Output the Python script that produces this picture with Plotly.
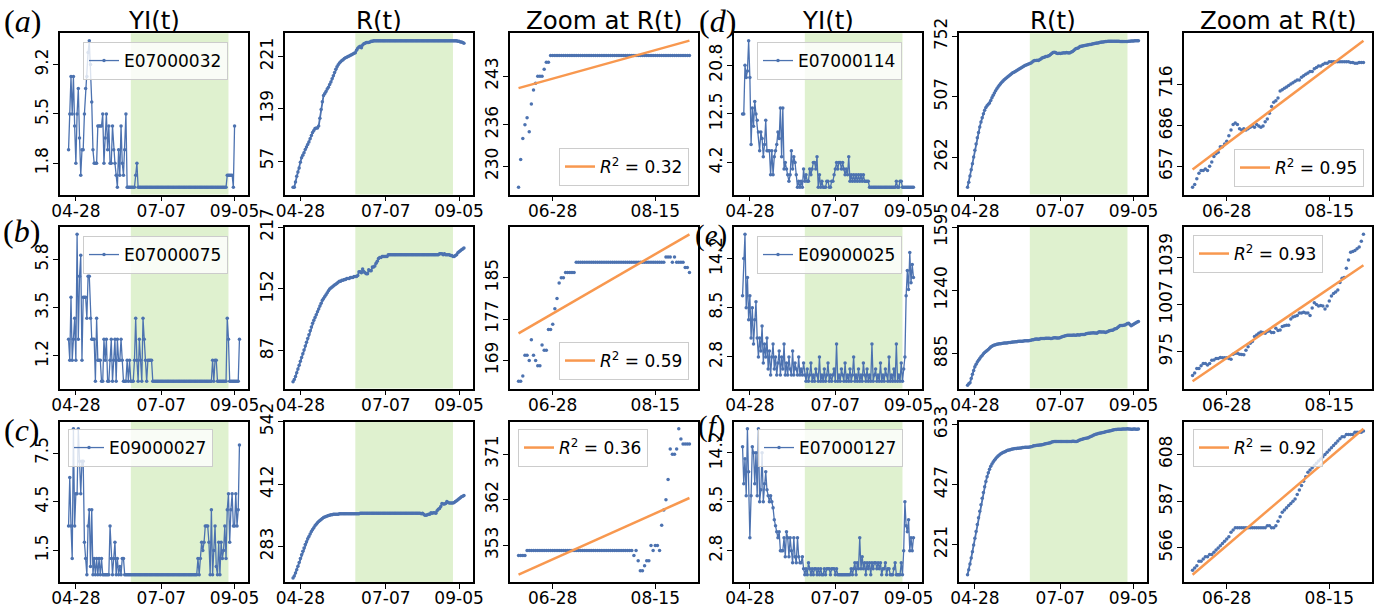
import datetime as dt
import numpy as np
import plotly.graph_objects as go

W, H = 1394, 608
BLUE = "#4c72b0"
ORANGE = "#f8984f"
GREEN = "#dff1cf"

start = dt.date(2020, 4, 22)
dates = [(start + dt.timedelta(days=i)).isoformat() for i in range(141)]
Z0, Z1 = 51, 132          # zoom window 06-12 .. 08-31 (also the shaded span)

codes = ["E07000032", "E07000075", "E09000027", "E07000114", "E09000025", "E07000127"]
r2_text = ["0.32", "0.59", "0.36", "0.95", "0.93", "0.92"]
yi_ticks = [[1.8, 5.5, 9.2], [1.2, 3.5, 5.8], [1.5, 4.5, 7.5],
            [4.2, 12.5, 20.8], [2.8, 8.5, 14.2], [2.8, 8.5, 14.2]]
r_ticks = [[57, 139, 221], [87, 152, 217], [283, 412, 542],
           [262, 507, 752], [885, 1240, 1595], [221, 427, 633]]
zoom_ticks = [[230, 236, 243], [169, 177, 185], [353, 362, 371],
              [657, 686, 716], [975, 1007, 1039], [566, 587, 608]]
x_ticks = ["2020-04-28", "2020-07-07", "2020-09-05"]
x_tick_text = ["04-28", "07-07", "09-05"]
zx_ticks = ["2020-06-28", "2020-08-15"]
zx_tick_text = ["06-28", "08-15"]

# ---------------- YI(t) series ----------------
yi_a = [2.8, 5.5, 8.3, 5.5, 8.3, 4.6, 1.8, 5.5, 7.4, 3.7, 0.9, 2.8, 2.8, 5.5, 7.4, 8.3, 10.1, 11.0,
        9.2, 6.4, 2.8, 1.8, 1.8, 1.8, 4.6, 4.6, 4.6, 4.6, 5.5, 1.8, 3.7, 5.5, 2.8, 4.6, 1.8, 1.8,
        4.6, 2.8, 1.8, 0.9, 0.0, 2.8, 0.9, 4.6, 1.8, 0.9, 2.8, 5.5,
        0, 0, 0, 0, 0, 0, 0, 0.9, 1.8, 0, 0, 0, 0, 0, 0, 0, 0, 0, 0, 0, 0, 0, 0, 0,
        0, 0, 0, 0, 0, 0, 0, 0, 0, 0, 0, 0, 0, 0, 0, 0, 0, 0, 0, 0, 0, 0, 0, 0, 0, 0,
        0, 0, 0, 0, 0, 0, 0, 0, 0, 0, 0, 0, 0, 0, 0, 0, 0, 0, 0, 0, 0, 0, 0, 0, 0, 0,
        0, 0, 0, 0, 0, 0, 0.9, 0.9, 0.9, 0.9, 0.9, 0, 4.6]
yi_b = [2, 1, 4, 1, 2, 3, 1, 7, 2, 5, 6, 1, 4, 4, 4, 3, 5, 5, 3, 2, 2, 2, 0, 3, 1, 1, 1, 0, 0, 2,
        1, 2, 0, 0, 1, 2, 0, 1, 2, 0, 2, 1, 1, 2, 1, 0, 0, 0,
        1, 0, 1, 0, 0, 0, 1, 3, 1, 0, 2, 1, 0, 3, 2, 1, 0, 1, 1, 1, 1,
        0, 0, 0, 0, 0, 0, 0, 0, 0, 0, 0, 0, 0, 0, 0, 0, 0, 0, 0, 0, 0, 0, 0, 0, 0,
        0, 0, 0, 0, 0, 0, 0, 0, 0, 0, 0, 0, 0, 0, 0, 0, 0, 0, 0, 0, 0, 0, 0, 0,
        1, 0, 1, 1, 0, 0, 0, 0, 0, 0, 0, 0, 3, 2, 0, 0, 0, 0, 0, 0, 0, 0, 2]
yi_c = [3.0, 6.0, 3.0, 1.0, 9.0, 3.0, 5.0, 5.0, 9.0, 7.0, 5.0, 7.0, 7.0, 2.0, 1.0, 0.0, 3.0, 4.0,
        0.5, 4.0, 0.0, 1.0, 0.0, 1.0, 0.0, 1.0, 0.0, 1.0, 0.0, 0.0, 0.0, 0.0, 0.0, 0.0, 3.0, 1.0,
        0.0, 1.0, 2.0, 0.0, 1.0, 0.0, 0.5, 0.0, 1.0, 1.0, 0.0, 0.0,
        0, 0, 0, 0, 0, 0, 0, 0, 0, 0, 0, 0, 0, 0, 0, 0, 0, 0, 0, 0, 0, 0, 0, 0, 0, 0, 0, 0, 0,
        0, 0, 0, 0, 0, 0, 0, 0, 0, 0, 0, 0, 0, 0, 0, 0, 0, 0, 0, 0, 0, 0, 0, 0, 0, 0, 0, 0, 0,
        1.0, 0.0, 1.0, 2.0, 1.5, 2.0, 3.0, 3.0, 3.0, 2.0, 0.0, 4.0, 0.0, 1.5, 3.0, 0.5, 0.0, 2.0,
        0.0, 2.0, 1.0, 1.5, 3.0, 1.0, 4.0, 5.0, 2.0, 4.0, 5.0, 3.0, 3.0, 5.0, 3.0, 4.0, 8.0]
yi_d = [12.5, 12.5, 20.8, 18.7, 19.8, 25.0, 18.7, 7.3, 13.5, 10.4, 14.6, 12.5, 11.4, 9.4, 6.2, 9.4,
        8.3, 5.2, 7.3, 11.4, 6.2, 6.2, 6.2, 2.1, 6.2, 2.1, 5.2, 6.2, 7.3, 9.4, 8.3, 13.5, 5.2, 13.5,
        3.1, 4.2, 3.1, 2.1, 1.0, 2.1, 6.2, 3.1, 5.2, 4.2, 2.1, 0.0, 1.0, 0.0, 1.0, 0.0, 3.1,
        1.0, 2.1, 1.0, 1.0, 3.1, 2.1, 3.1, 4.2, 4.2, 3.1, 5.2, 0.0, 2.1, 0.0, 1.0, 0.0, 0.0, 0.0,
        1.0, 1.0, 0.0, 0.0, 1.0, 1.0, 2.1, 3.1, 4.2, 3.1, 4.2, 4.2, 3.1, 4.2, 3.1, 2.1, 3.1, 2.1,
        5.2, 1.0, 2.1, 1.0, 2.1, 1.0, 2.1, 1.0, 2.1, 1.0, 2.1, 1.0, 2.1, 1.0, 1.0, 1.0, 1.0, 0.0,
        0, 0, 0, 0, 0, 0, 0, 0, 0, 0, 0, 0, 0, 0, 0, 0, 0, 0, 0, 0, 0,
        1.0, 0.0, 0.0, 1.0, 1.0, 0, 0, 0, 0, 0, 0, 0, 0, 0, 0]
yi_e = [9.9, 14.2, 17.0, 8.5, 12.0, 7.1, 9.9, 5.0, 8.5, 4.3, 7.1, 9.2, 5.0, 2.8, 5.0, 3.5, 6.4,
        2.1, 4.3, 2.8, 5.0, 1.4, 3.5, 0.7, 2.8, 4.3, 1.4, 2.8, 0.7, 2.1, 3.5, 0.7, 2.8, 1.4, 4.3,
        0.7, 2.1, 0.7, 2.8, 1.4, 0.7, 3.5, 0.7, 2.1, 1.4, 0.7, 2.8, 0.7, 1.4, 0.7, 2.1,
        0.7, 0.0, 1.4, 0.0, 0.7, 2.1, 0.0, 0.7, 0.0, 1.4, 0.7, 0.0, 2.8, 0.0, 0.7, 0.0, 1.4, 0.0,
        0.7, 2.1, 0.0, 0.7, 0.0, 0.7, 1.4, 0.0, 4.3, 0.0, 0.7, 0.0, 1.4, 0.7, 0.0, 2.1, 0.0, 0.7,
        0.0, 1.4, 0.0, 0.7, 2.8, 0.0, 0.7, 0.0, 1.4, 0.0, 0.7, 0.0, 2.1, 0.7, 0.0, 1.4, 0.0, 0.7,
        0.0, 4.3, 0.0, 0.7, 1.4, 0.0, 0.7, 0.0, 2.1, 0.0, 0.7, 0.0, 1.4, 0.7, 0.0, 2.8, 0.0, 0.7,
        0.0, 1.4, 0.0, 4.3, 0.0, 0.7, 0.0, 2.1, 0.0,
        1.4, 2.8, 9.9, 12.8, 10.6, 14.9, 11.4, 13.5, 12.0]
yi_f = [14.9, 10.6, 13.5, 9.2, 17.0, 12.0, 4.3, 9.2, 14.9, 14.2, 10.6, 14.2, 9.2, 17.0, 8.5, 9.9,
        14.2, 8.5, 10.6, 12.0, 9.9, 9.2, 8.5, 9.2, 8.5, 7.8, 6.4, 5.7, 5.0, 4.3, 5.0, 2.8, 2.8, 2.8,
        4.3, 2.1, 5.0, 4.3, 2.1, 4.3, 2.8, 1.4, 4.3, 2.1, 1.4, 4.3, 2.1, 1.4, 1.4, 2.1, 0.7,
        0.0, 0.7, 0.0, 1.4, 0.7, 0.0, 0.7, 0.0, 0.7, 0.7, 0.0, 0.7, 0.0, 0.7, 0.0, 0.0, 0.7, 0.0,
        0.7, 0.7, 0.7, 0.0, 0.7, 0.7, 0.7, 0.0, 0.7, 0.0, 0, 0, 0, 0, 0, 0, 0, 0, 0, 0, 0.7, 0.0,
        0.7, 1.4, 0.0, 1.4, 0.7, 4.3, 0.7, 2.1, 0.7, 1.4, 0.0, 1.4, 0.7, 1.4, 0.0, 1.4, 0.7, 1.4,
        1.4, 0.7, 1.4, 0.7, 1.4, 0.0, 0.7, 0.7, 1.4, 0.0, 0.7, 0.7, 0.0, 0.0, 0.0, 0.7, 1.4, 0.0,
        0.0, 0.0, 0.0, 1.4, 0.0, 2.8, 8.5, 5.7, 5.0, 6.4, 2.8, 4.3, 2.8, 4.3]

# ---------------- R(t) series ----------------
r_a = [16, 16, 24, 33, 40, 46, 55, 62, 66, 70, 75, 79, 83, 87, 92, 97, 102, 105, 108, 109, 109,
       112, 124, 138, 150, 160, 163, 166, 170, 173, 177, 181, 186, 191, 196, 201, 205, 208, 211,
       213, 215, 216, 218, 219, 220, 221, 222, 223, 224, 225, 226,
       227, 231, 234, 236, 237, 235, 239, 241, 242, 243, 243, 243, 244, 245, 245,
       246, 246, 246, 246, 246, 246, 246, 246, 246, 246, 246, 246, 246, 246, 246, 246, 246, 246,
       246, 246, 246, 246, 246, 246, 246, 246, 246, 246, 246, 246, 246, 246, 246, 246, 246, 246,
       246, 246, 246, 246, 246, 246, 246, 246, 246, 246, 246, 246, 246, 246, 246, 246, 246, 246,
       246, 246, 246, 246, 246, 246, 246, 246, 246, 246, 246, 246,
       246, 246, 246, 245, 245, 244, 244, 243, 242]
r_b = [54.5, 57, 60, 64, 68, 72, 76, 80, 84, 88, 92, 96, 100, 104, 108, 112, 116, 119, 122, 125,
       128, 131, 134, 137, 140, 142, 144, 146, 148, 150, 152, 153, 154, 155, 156, 157, 158, 159,
       160, 160, 161, 161, 162, 162, 163, 163, 163, 164, 164, 164, 165,
       165, 165, 166, 170, 170, 169, 173, 170, 169, 168, 168, 172, 171, 171, 175, 175, 176, 179,
       181, 184, 185, 185, 186, 186, 186, 186, 186,
       188, 188, 188, 188, 188, 188, 188, 188, 188, 188, 188, 188, 188, 188, 188, 188, 188, 188,
       188, 188, 188, 188, 188, 188, 188, 188, 188, 188, 188, 188, 188, 188, 188, 188, 188, 188,
       188, 188, 188, 188, 188,
       188, 189, 189, 189, 188, 189, 188, 188, 188, 188, 187, 187, 186,
       186, 187, 188, 190, 191, 192, 193, 194, 195]
r_c = [218, 222, 228, 235, 242, 250, 258, 266, 273, 280, 287, 293, 299, 304, 309, 314, 318, 322,
       326, 329, 332, 335, 337, 339, 341, 343, 344, 345, 346, 347, 348, 349, 349, 350, 350, 350,
       350, 350, 351, 351, 351, 351, 351, 351, 351, 351, 351, 351, 351, 351, 351,
       351, 351, 351, 351,
       352, 352, 352, 352, 352, 352, 352, 352, 352, 352, 352, 352, 352, 352, 352, 352, 352, 352,
       352, 352, 352, 352, 352, 352, 352, 352, 352, 352, 352, 352, 352, 352, 352, 352, 352, 352,
       352, 352, 352, 352, 352, 352, 352, 352, 352, 352, 352, 352, 352, 352,
       351, 352, 350, 348, 348, 349, 350, 350, 353, 352, 353, 353, 352, 357, 360, 362, 366, 372,
       371, 371, 372, 376, 374, 373, 373, 373, 373,
       374, 376, 378, 380, 382, 384, 386, 387, 388.5]
r_d = [139.5, 160, 185, 210, 235, 262, 290, 315, 340, 362, 384, 404, 422, 438, 452, 463, 470, 476,
       482, 492, 503, 513, 522, 531, 539, 547, 554, 560, 566, 571, 576, 580, 584, 588, 592, 596,
       600, 604, 607, 610, 613, 616, 619, 622, 625, 628, 631, 634, 636, 638, 640,
       642, 644, 648, 652, 654, 654, 655, 654, 657, 660, 664, 666, 667, 671, 671, 673, 675, 679,
       683, 687, 688, 687, 684, 683, 684, 683, 684, 685, 686, 685, 687, 686, 685, 686, 689, 691,
       695, 700, 703, 704, 706, 711, 712, 713, 714, 715, 716, 717, 718, 719, 719, 721, 722, 723,
       724, 725, 725, 727, 728, 729, 729, 730, 731, 731, 732, 732, 732, 732, 732, 732, 732, 732,
       732, 732, 731.5, 731.5, 731, 731, 731.5, 731.5, 731.5,
       732, 732, 733, 733, 733, 734, 734, 735, 735]
r_e = [707.5, 716, 722, 745, 770, 790, 812, 825, 838, 848, 858, 867, 875, 884, 891, 897, 903, 908,
       915, 922, 927, 930, 933, 935, 937, 939, 940, 941, 942, 943, 944, 945, 945, 946, 947, 948,
       949, 950, 951, 952, 952, 953, 954, 954, 955, 955, 956, 957, 957, 958, 958,
       959.0, 960.6, 963.6, 963.6, 965.5, 967.0, 967.0, 966.0, 967.0, 969.3, 969.5, 970.4, 970.4,
       971.1, 971.0, 971.0, 971.0, 970.5, 970.0, 973.4, 974.0, 974.0, 973.4, 973.2, 973.0, 976.1,
       978.4, 980.7, 981.9, 985.3, 986.4, 987.5, 988.3, 988.1, 987.6, 988.7, 989.1, 988.0, 988.0,
       991.0, 989.4, 989.8, 992.1, 992.6, 993.0, 993.0, 997.2, 998.5, 999.0, 999.5, 1001.3,
       1001.3, 1001.7, 1001.3, 1001.3, 999.5, 1004.7, 1008.1, 1007.0, 1005.9, 1006.3, 1006.0,
       1004.0, 1005.9, 1009.3, 1012.7, 1014.5, 1015.5, 1016.8, 1021.9, 1024.8, 1025.3, 1031.5,
       1037.2, 1042.4, 1042.9, 1043.5, 1044.7, 1045.9, 1049.8, 1054.5,
       1056, 1048, 1042, 1045, 1050, 1054, 1058, 1062, 1065]
r_f = [118, 135, 155, 175, 197, 220, 243, 266, 290, 313, 336, 358, 380, 400, 420, 438, 454, 468,
       480, 490, 498, 505, 511, 516, 521, 525, 529, 532, 535, 537, 539, 541, 543, 545, 546, 547,
       548, 549, 550, 551, 551, 552, 552, 553, 553, 554, 554, 555, 555, 555, 555,
       556, 557, 558, 560, 560, 561, 562, 562, 563, 563, 564, 565, 566, 567, 568, 569, 570, 571,
       573, 574, 575, 575, 575, 575, 575, 575, 575, 575, 575, 575, 575, 575, 575, 575, 575, 576,
       576, 575, 575, 576, 578, 580, 582, 583, 584, 585, 586, 587, 588, 590, 592, 594, 596, 598,
       600, 601, 602, 603, 604, 605, 606, 607, 608, 609, 610, 611, 612, 613, 614, 615, 616, 616,
       617, 617, 617, 617, 618, 618, 618, 618, 618.5,
       618, 618, 617, 617, 618, 618, 617, 617, 618]

yi_all = [yi_a, yi_b, yi_c, yi_d, yi_e, yi_f]
r_all = [r_a, r_b, r_c, r_d, r_e, r_f]

panel_letters = ["a", "b", "c", "d", "e", "f"]
letter_pos = [(22, 21), (21, 231), (22, 430), (718, 21), (711, 236), (711, 426)]
letter_size = [32, 32, 32, 32, 29, 29]
yi_leg_pos = [(83, 42), (83, 236), (68, 429), (757, 42), (757, 236), (758, 429)]
# zoom legends: (x, y, xanchor, yanchor)
z_leg_pos = [(689, 186, "right", "bottom"), (689, 380, "right", "bottom"),
             (518, 429, "left", "top"), (1364, 187, "right", "bottom"),
             (1193, 235, "left", "top"), (1193, 429, "left", "top")]

col_lefts = [60, 284.5, 510, 734, 959, 1184]
col_w = 188
rows_px = [(33.3, 194.5), (227, 388.5), (421.5, 582)]

fig = go.Figure()
layout = dict(width=W, height=H,
              margin=dict(l=0, r=0, t=0, b=0, pad=0, autoexpand=False),
              paper_bgcolor="white", plot_bgcolor="white", showlegend=True,
              font=dict(family="DejaVu Sans", size=17, color="black"))
shapes, annotations = [], []

def ax_names(n):
    return ("xaxis" if n == 1 else f"xaxis{n}", "yaxis" if n == 1 else f"yaxis{n}",
            "x" if n == 1 else f"x{n}", "y" if n == 1 else f"y{n}")

def shift(d, k):
    return (dt.date.fromisoformat(d) + dt.timedelta(days=k)).isoformat()

full_xrange = [shift(dates[0], -7), shift(dates[-1], 7)]
zoom_xrange = [shift(dates[Z0], -4), shift(dates[Z1 - 1], 4)]

def axis_style(domain, anchor, standoff, **kw):
    d = dict(domain=domain, anchor=anchor, showline=True, linecolor="black", linewidth=1.5,
             mirror=True, ticks="outside", ticklen=5, tickwidth=1.2, tickcolor="black",
             showgrid=False, zeroline=False, automargin=False, ticklabelstandoff=standoff,
             tickfont=dict(family="DejaVu Sans", size=17, color="black"))
    d.update(kw)
    return d

def pad_range(vals, ticks=None):
    lo, hi = float(np.min(vals)), float(np.max(vals))
    p = 0.05 * (hi - lo)
    lo, hi = lo - p, hi + p
    if ticks is not None:          # view limits widened so every set tick is visible
        lo, hi = min(lo, min(ticks)), max(hi, max(ticks))
    return [lo, hi]

leg_style = dict(bgcolor="rgba(255,255,255,0.8)", bordercolor="#cccccc", borderwidth=1,
                 font=dict(size=17, family="DejaVu Sans", color="black"),
                 xref="paper", yref="paper")

XSO, YSO = -5, -2

leg_count = 0
for k in range(6):
    row = k % 3
    grp = k // 3
    top, bot = rows_px[row]
    ydom = [1 - bot / H, 1 - top / H]
    yi = yi_all[k]
    r = r_all[k]
    zd = dates[Z0:Z1]
    zr = np.array(r[Z0:Z1], dtype=float)
    idx = np.arange(len(zr))
    slope, icpt = np.polyfit(idx, zr, 1)
    fit = icpt + slope * idx

    for j in range(3):
        col = grp * 3 + j
        n = row * 6 + col + 1
        xa, ya, xr, yr = ax_names(n)
        xdom = [col_lefts[col] / W, (col_lefts[col] + col_w) / W]
        if j == 0:
            leg_count += 1
            lname = "legend" if leg_count == 1 else f"legend{leg_count}"
            fig.add_trace(go.Scatter(x=dates, y=yi, mode="lines+markers", name=codes[k],
                                     line=dict(color=BLUE, width=1.3),
                                     marker=dict(color=BLUE, size=3.5),
                                     xaxis=xr, yaxis=yr, legend=lname))
            lx, ly = yi_leg_pos[k]
            layout[lname] = dict(x=lx / W, y=1 - ly / H, xanchor="left", yanchor="top",
                                 **leg_style)
            layout[xa] = axis_style(xdom, yr, XSO, type="date", range=full_xrange,
                                    tickvals=x_ticks, ticktext=x_tick_text)
            layout[ya] = axis_style(ydom, xr, YSO, range=pad_range(yi), tickvals=yi_ticks[k],
                                    ticktext=[str(v) for v in yi_ticks[k]], tickangle=-90)
            shapes.append(dict(type="rect", xref=xr, yref=f"{yr} domain", x0=dates[Z0],
                               x1=dates[Z1 - 1], y0=0, y1=1, fillcolor=GREEN,
                               line=dict(width=0), layer="below"))
        elif j == 1:
            fig.add_trace(go.Scatter(x=dates, y=r, mode="lines+markers", showlegend=False,
                                     line=dict(color=BLUE, width=1.8),
                                     marker=dict(color=BLUE, size=3.5),
                                     xaxis=xr, yaxis=yr))
            layout[xa] = axis_style(xdom, yr, XSO, type="date", range=full_xrange,
                                    tickvals=x_ticks, ticktext=x_tick_text)
            layout[ya] = axis_style(ydom, xr, YSO, range=pad_range(r, r_ticks[k]),
                                    tickvals=r_ticks[k],
                                    ticktext=[str(v) for v in r_ticks[k]], tickangle=-90)
            shapes.append(dict(type="rect", xref=xr, yref=f"{yr} domain", x0=dates[Z0],
                               x1=dates[Z1 - 1], y0=0, y1=1, fillcolor=GREEN,
                               line=dict(width=0), layer="below"))
        else:
            leg_count += 1
            lname = f"legend{leg_count}"
            fig.add_trace(go.Scatter(x=zd, y=zr, mode="markers", showlegend=False,
                                     marker=dict(color=BLUE, size=3.5), xaxis=xr, yaxis=yr))
            fig.add_trace(go.Scatter(x=zd, y=fit, mode="lines",
                                     name=f"<i>R</i><sup>2</sup> = {r2_text[k]}",
                                     line=dict(color=ORANGE, width=2.5),
                                     xaxis=xr, yaxis=yr, legend=lname))
            lx, ly, xan, yan = z_leg_pos[k]
            layout[lname] = dict(x=lx / W, y=1 - ly / H, xanchor=xan, yanchor=yan,
                                 **leg_style)
            layout[xa] = axis_style(xdom, yr, XSO, type="date", range=zoom_xrange,
                                    tickvals=zx_ticks, ticktext=zx_tick_text)
            layout[ya] = axis_style(ydom, xr, YSO, range=pad_range(np.concatenate([zr, fit])),
                                    tickvals=zoom_ticks[k],
                                    ticktext=[str(v) for v in zoom_ticks[k]], tickangle=-90)

# column titles
titles = ["YI(t)", "R(t)", "Zoom at R(t)", "YI(t)", "R(t)", "Zoom at R(t)"]
for c, t in enumerate(titles):
    annotations.append(dict(text=t, x=(col_lefts[c] + col_w / 2) / W, y=1 - 21 / H,
                            xref="paper", yref="paper", showarrow=False,
                            xanchor="center", yanchor="middle",
                            font=dict(family="DejaVu Sans", size=24.5, color="black")))
# panel letters
for letter, (px, py), fs in zip(panel_letters, letter_pos, letter_size):
    annotations.append(dict(text=f"(<i>{letter}</i>)", x=px / W, y=1 - py / H,
                            xref="paper", yref="paper", showarrow=False,
                            xanchor="center", yanchor="middle",
                            font=dict(family="Liberation Serif", size=fs, color="black")))

layout["shapes"] = shapes
layout["annotations"] = annotations
fig.update_layout(**layout)
fig.write_html("out.html")
